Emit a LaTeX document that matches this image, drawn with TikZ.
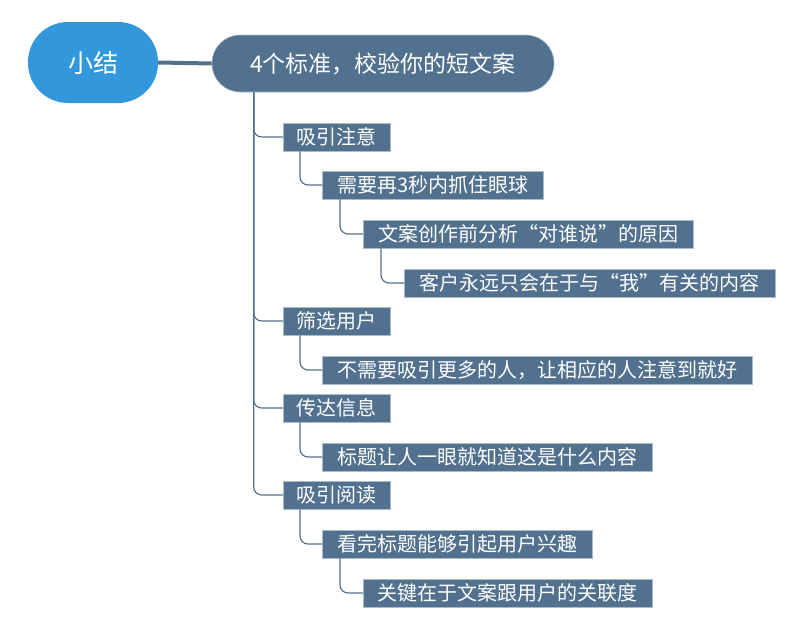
\documentclass[tikz,border=0pt]{standalone}
\usepackage{fontspec}
\setmainfont{Noto Sans CJK SC}
\usetikzlibrary{positioning}
\definecolor{rootblue}{HTML}{3398DB}
\definecolor{slate}{HTML}{51718F}
\definecolor{edgegrey}{HTML}{A9BCCE}

\begin{document}
\begin{tikzpicture}[x=1pt, y=-1pt,
    every node/.style={text=white, inner sep=0pt},
    topic/.style = {rectangle, fill=slate, draw=edgegrey, line width=0.8pt,
                    minimum height=28pt, anchor=west,
                    font=\fontsize{20}{23}\selectfont},
    link/.style = {draw=slate, line width=1.2pt, rounded corners=8pt}
]
\useasboundingbox (0,0) rectangle (800,629);

% root and title
\node (root) [rectangle, rounded corners=40pt, fill=rootblue,
              minimum width=130pt, minimum height=81pt,
              font=\fontsize{25}{28}\selectfont] at (93,62.5) {小结};
\node (title) [rectangle, rounded corners=28pt, fill=slate, draw=edgegrey,
               line width=0.6pt, minimum width=342pt, minimum height=57pt,
               font=\fontsize{23}{26}\selectfont] at (383,63.5) {4个标准，校验你的短文案};
\draw[slate, line width=4pt] (root.east) -- (title.west);

% first level
\node (attn)   [topic, minimum width=107pt] at (283,137) {吸引注意};
\node (filter) [topic, minimum width=107pt] at (283,321) {筛选用户};
\node (info)   [topic, minimum width=107pt] at (283,408) {传达信息};
\node (read)   [topic, minimum width=107pt] at (283,495) {吸引阅读};

% second level
\node (attnA)   [topic, minimum width=221pt] at (322,185) {需要再3秒内抓住眼球};
\node (filterA) [topic, minimum width=430pt] at (322,370) {不需要吸引更多的人，让相应的人注意到就好};
\node (infoA)   [topic, minimum width=330pt] at (322,457) {标题让人一眼就知道这是什么内容};
\node (readA)   [topic, minimum width=270pt] at (322,544) {看完标题能够引起用户兴趣};

% third and fourth level
\node (attnB) [topic, minimum width=330pt] at (363,234) {文案创作前分析“对谁说”的原因};
\node (readB) [topic, minimum width=289pt] at (363,593) {关键在于文案跟用户的关联度};
\node (attnC) [topic, minimum width=371pt] at (404,283) {客户永远只会在于与“我”有关的内容};

% connectors
\coordinate (trunk) at ([xshift=42pt]title.south west);
\foreach \n in {attn, filter, info, read}
  \draw[link] (trunk) |- (\n.west);
\draw[link] ([xshift=17pt]attn.south west) |- (attnA.west);
\draw[link] ([xshift=18pt]attnA.south west) |- (attnB.west);
\draw[link] ([xshift=18pt]attnB.south west) |- (attnC.west);
\draw[link] ([xshift=17pt]filter.south west) |- (filterA.west);
\draw[link] ([xshift=17pt]info.south west) |- (infoA.west);
\draw[link] ([xshift=17pt]read.south west) |- (readA.west);
\draw[link] ([xshift=18pt]readA.south west) |- (readB.west);

\end{tikzpicture}
\end{document}
